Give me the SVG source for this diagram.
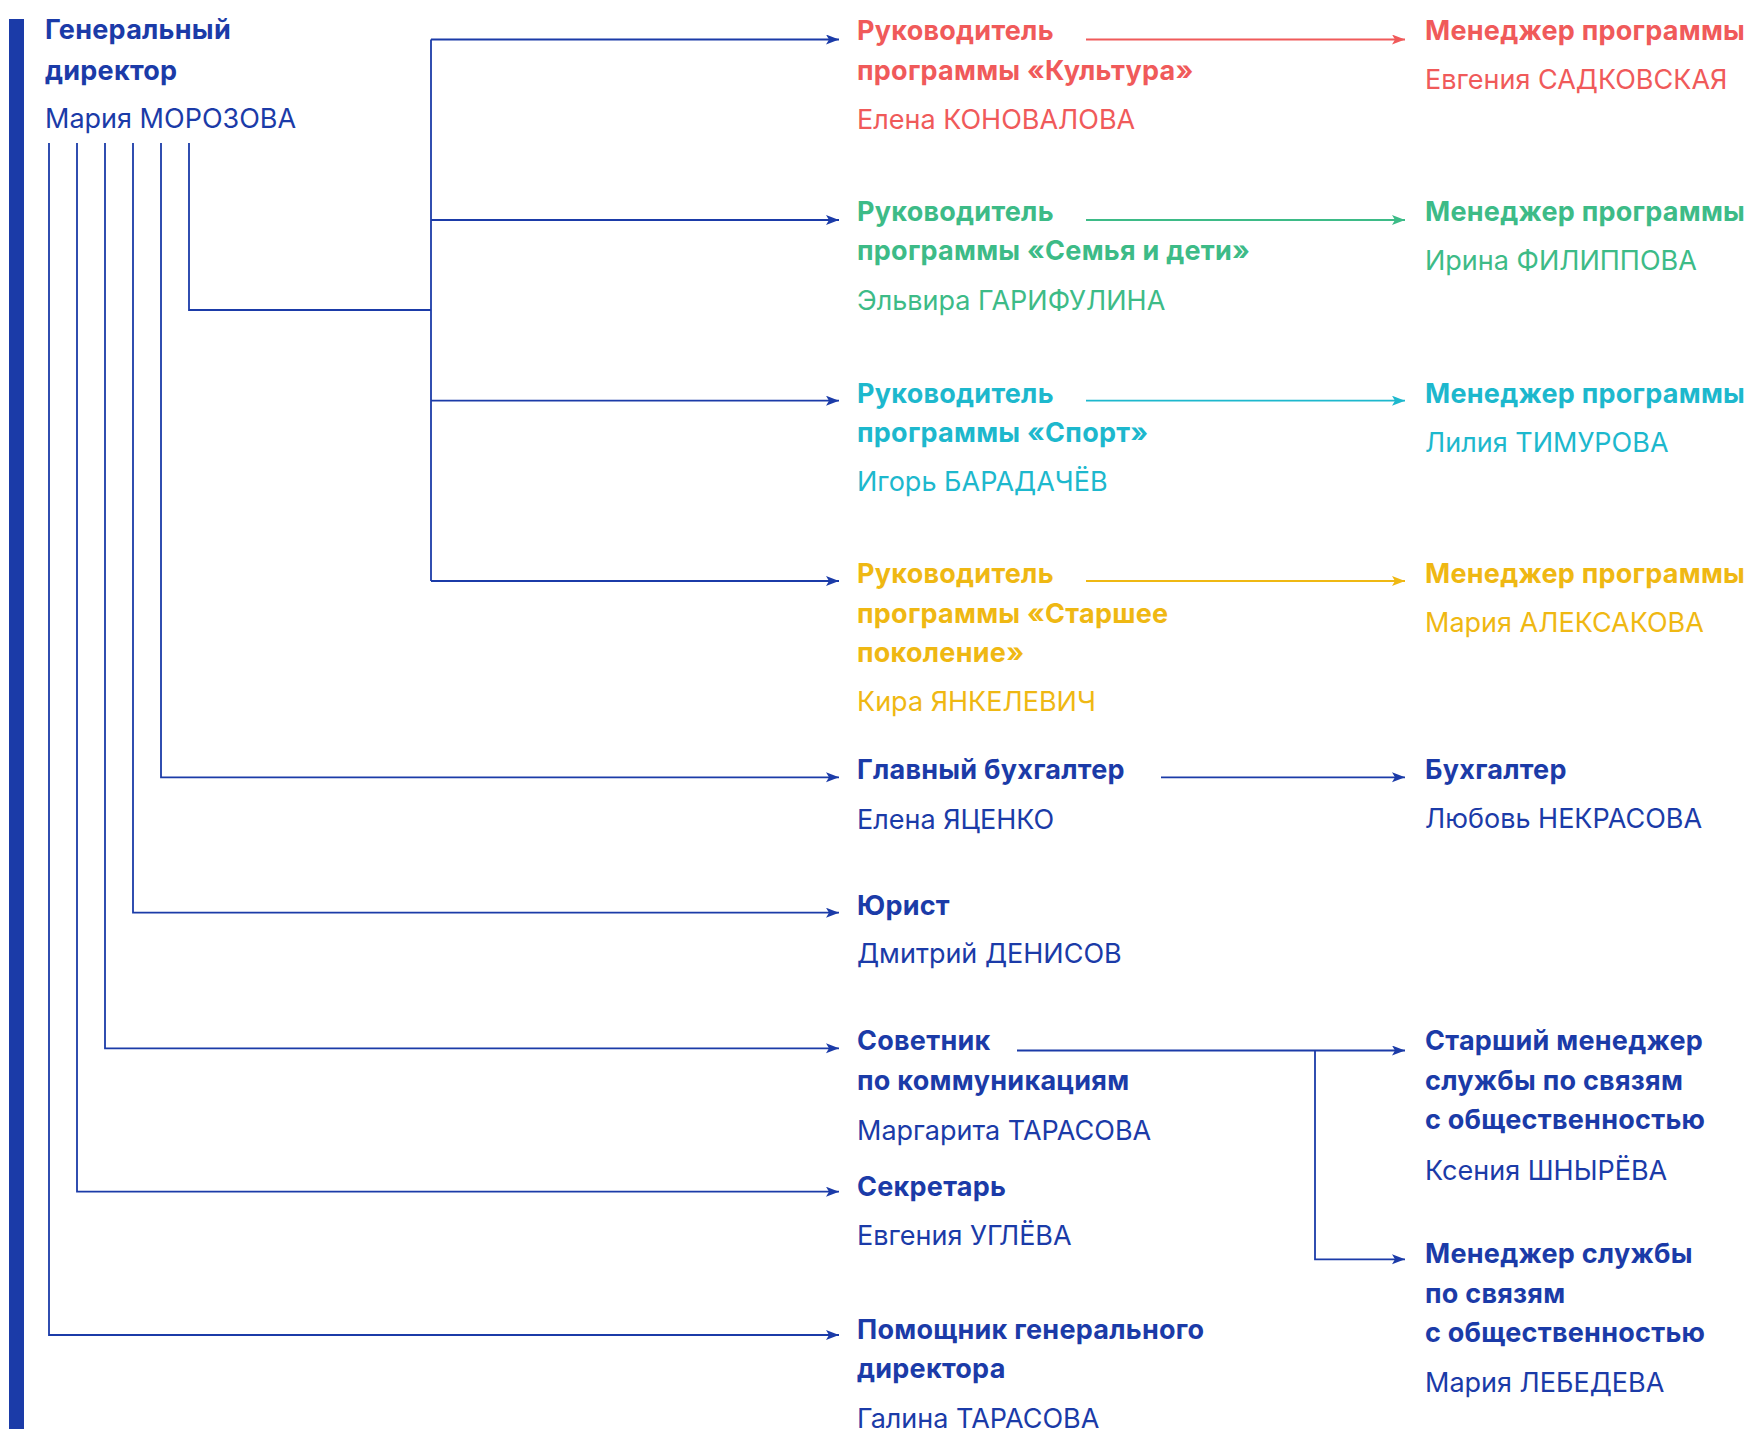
<svg xmlns="http://www.w3.org/2000/svg" width="1748" height="1429" viewBox="0 0 1748 1429">
<style>
text{font-family:Inter,"Noto Sans","DejaVu Sans",sans-serif;font-size:27px}
.b{font-weight:700;letter-spacing:0.25px}
.r{font-weight:400}
.blue{fill:#1b3ba8}.red{fill:#f05a5a}.green{fill:#3dbb87}.cyan{fill:#1db8cd}.yellow{fill:#efb813}
.ln{fill:none;stroke-width:1.8}
.lb{stroke:#1b3ba8}.lr{stroke:#f05a5a}.lg{stroke:#3dbb87}.lc{stroke:#1db8cd}.ly{stroke:#efb813}
</style>
<defs>
<marker id="ab" markerUnits="userSpaceOnUse" markerWidth="14" markerHeight="12" refX="13" refY="5" orient="auto"><path d="M0,0 L13,5 L0,10 L3,5 z" fill="#1b3ba8"/></marker>
<marker id="ar" markerUnits="userSpaceOnUse" markerWidth="14" markerHeight="12" refX="13" refY="5" orient="auto"><path d="M0,0 L13,5 L0,10 L3,5 z" fill="#f05a5a"/></marker>
<marker id="ag" markerUnits="userSpaceOnUse" markerWidth="14" markerHeight="12" refX="13" refY="5" orient="auto"><path d="M0,0 L13,5 L0,10 L3,5 z" fill="#3dbb87"/></marker>
<marker id="ac" markerUnits="userSpaceOnUse" markerWidth="14" markerHeight="12" refX="13" refY="5" orient="auto"><path d="M0,0 L13,5 L0,10 L3,5 z" fill="#1db8cd"/></marker>
<marker id="ay" markerUnits="userSpaceOnUse" markerWidth="14" markerHeight="12" refX="13" refY="5" orient="auto"><path d="M0,0 L13,5 L0,10 L3,5 z" fill="#efb813"/></marker>
</defs>
<rect x="0" y="0" width="1748" height="1429" fill="#ffffff"/>
<rect x="9" y="19" width="15" height="1410" fill="#1b3ba8"/>

<g id="connectors">
<path class="ln lb" d="M189,143 V310 H431"/>
<path class="ln lb" d="M431,39.5 V581"/>
<path class="ln lb" d="M431,39.5 H839" marker-end="url(#ab)"/>
<path class="ln lb" d="M431,220 H839" marker-end="url(#ab)"/>
<path class="ln lb" d="M431,400.7 H839" marker-end="url(#ab)"/>
<path class="ln lb" d="M431,581 H839" marker-end="url(#ab)"/>
<path class="ln lb" d="M161,143 V777.3 H839" marker-end="url(#ab)"/>
<path class="ln lb" d="M133,143 V912.7 H839" marker-end="url(#ab)"/>
<path class="ln lb" d="M105,143 V1048.3 H839" marker-end="url(#ab)"/>
<path class="ln lb" d="M77,143 V1191.7 H839" marker-end="url(#ab)"/>
<path class="ln lb" d="M49,143 V1335 H839" marker-end="url(#ab)"/>
<path class="ln lr" d="M1086,39.5 H1405" marker-end="url(#ar)"/>
<path class="ln lg" d="M1086,220 H1405" marker-end="url(#ag)"/>
<path class="ln lc" d="M1086,400.7 H1405" marker-end="url(#ac)"/>
<path class="ln ly" d="M1086,581 H1405" marker-end="url(#ay)"/>
<path class="ln lb" d="M1161,777.3 H1405" marker-end="url(#ab)"/>
<path class="ln lb" d="M1017,1050.5 H1405" marker-end="url(#ab)"/>
<path class="ln lb" d="M1315,1050.5 V1259.3 H1405" marker-end="url(#ab)"/>
</g>

<g id="ceo" class="blue">
<text x="45" y="39" class="b">Генеральный</text>
<text x="45" y="79.5" class="b">директор</text>
<text x="45" y="127.5" class="r">Мария МОРОЗОВА</text>
</g>

<g id="head-culture" class="red">
<text x="857" y="39.5" class="b">Руководитель</text>
<text x="857" y="79.5" class="b">программы «Культура»</text>
<text x="857" y="128.5" class="r">Елена КОНОВАЛОВА</text>
</g>
<g id="mgr-culture" class="red">
<text x="1425" y="39.5" class="b">Менеджер программы</text>
<text x="1425" y="89" class="r">Евгения САДКОВСКАЯ</text>
</g>

<g id="head-family" class="green">
<text x="857" y="220.5" class="b">Руководитель</text>
<text x="857" y="260" class="b">программы «Семья и дети»</text>
<text x="857" y="309.5" class="r">Эльвира ГАРИФУЛИНА</text>
</g>
<g id="mgr-family" class="green">
<text x="1425" y="220.5" class="b">Менеджер программы</text>
<text x="1425" y="269.5" class="r">Ирина ФИЛИППОВА</text>
</g>

<g id="head-sport" class="cyan">
<text x="857" y="402.5" class="b">Руководитель</text>
<text x="857" y="441.5" class="b">программы «Спорт»</text>
<text x="857" y="490.5" class="r">Игорь БАРАДАЧЁВ</text>
</g>
<g id="mgr-sport" class="cyan">
<text x="1425" y="402.5" class="b">Менеджер программы</text>
<text x="1425" y="451.5" class="r">Лилия ТИМУРОВА</text>
</g>

<g id="head-senior" class="yellow">
<text x="857" y="583" class="b">Руководитель</text>
<text x="857" y="622.5" class="b">программы «Старшее</text>
<text x="857" y="662" class="b">поколение»</text>
<text x="857" y="711" class="r">Кира ЯНКЕЛЕВИЧ</text>
</g>
<g id="mgr-senior" class="yellow">
<text x="1425" y="583" class="b">Менеджер программы</text>
<text x="1425" y="631.5" class="r">Мария АЛЕКСАКОВА</text>
</g>

<g id="chief-accountant" class="blue">
<text x="857" y="779" class="b">Главный бухгалтер</text>
<text x="857" y="828.5" class="r">Елена ЯЦЕНКО</text>
</g>
<g id="accountant" class="blue">
<text x="1425" y="779" class="b">Бухгалтер</text>
<text x="1425" y="828" class="r">Любовь НЕКРАСОВА</text>
</g>

<g id="lawyer" class="blue">
<text x="857" y="914.5" class="b">Юрист</text>
<text x="857" y="963" class="r">Дмитрий ДЕНИСОВ</text>
</g>

<g id="advisor" class="blue">
<text x="857" y="1050" class="b">Советник</text>
<text x="857" y="1090" class="b">по коммуникациям</text>
<text x="857" y="1139.5" class="r">Маргарита ТАРАСОВА</text>
</g>
<g id="senior-pr" class="blue">
<text x="1425" y="1050" class="b">Старший менеджер</text>
<text x="1425" y="1090" class="b">службы по связям</text>
<text x="1425" y="1129" class="b">с общественностью</text>
<text x="1425" y="1179.5" class="r">Ксения ШНЫРЁВА</text>
</g>
<g id="pr-manager" class="blue">
<text x="1425" y="1262.5" class="b">Менеджер службы</text>
<text x="1425" y="1302.5" class="b">по связям</text>
<text x="1425" y="1342" class="b">с общественностью</text>
<text x="1425" y="1391.5" class="r">Мария ЛЕБЕДЕВА</text>
</g>

<g id="secretary" class="blue">
<text x="857" y="1195.5" class="b">Секретарь</text>
<text x="857" y="1244.5" class="r">Евгения УГЛЁВА</text>
</g>

<g id="assistant" class="blue">
<text x="857" y="1338.5" class="b">Помощник генерального</text>
<text x="857" y="1378" class="b">директора</text>
<text x="857" y="1427.5" class="r">Галина ТАРАСОВА</text>
</g>
</svg>
